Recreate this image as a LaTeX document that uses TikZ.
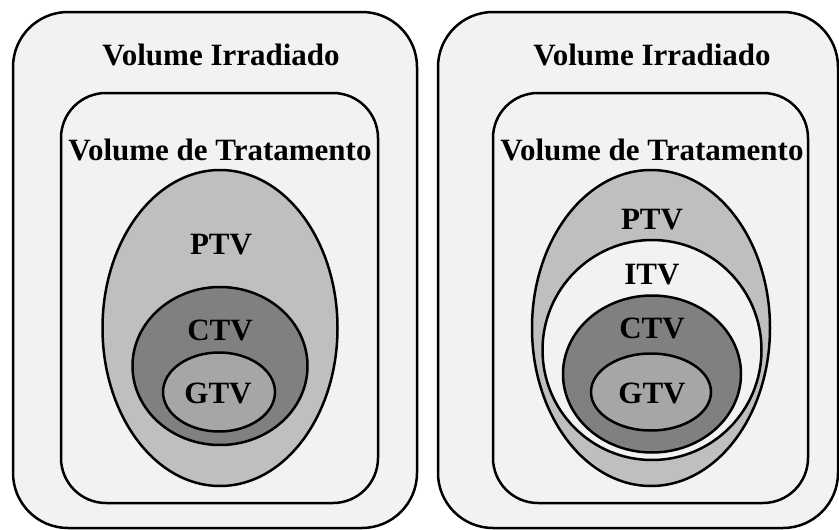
\documentclass[tikz,border=0pt]{standalone}
\usepackage{fontspec}
\setmainfont{Liberation Serif}
\usetikzlibrary{shapes.geometric, positioning}

\definecolor{bgbox}{HTML}{F2F2F2}
\definecolor{ptvgray}{HTML}{BFBFBF}
\definecolor{ctvgray}{HTML}{808080}
\definecolor{gtvgray}{HTML}{A6A6A6}

\begin{document}
\begin{tikzpicture}[x=1pt, y=-1pt,
  outerbox/.style={rectangle, rounded corners=55pt, draw=black, line width=2.5pt, fill=bgbox, inner sep=0pt},
  innerbox/.style={rectangle, rounded corners=45pt, draw=black, line width=2.5pt, fill=bgbox, inner sep=0pt},
  volume/.style={ellipse, draw=black, line width=2.5pt, inner sep=0pt},
  label/.style={font=\fontsize{31}{37}\selectfont\bfseries, inner sep=0pt}]

  \useasboundingbox (0,0) rectangle (839,530);

  % Left diagram
  \node (irrleft) [outerbox, minimum width=404pt, minimum height=516pt] at (215,270) {};
  \node (tratleft) [innerbox, minimum width=317pt, minimum height=410pt] at (219.5,298) {};
  \node (ptvleft) [volume, fill=ptvgray, minimum width=235pt, minimum height=316pt] at (220,328) {};
  \node (ctvleft) [volume, fill=ctvgray, minimum width=175pt, minimum height=158pt] at (220,366) {};
  \node (gtvleft) [volume, fill=gtvgray, minimum width=112pt, minimum height=79pt] at (219,392) {};

  \node (irrtextleft) [label] at (221,55) {Volume Irradiado};
  \node (trattextleft) [label] at (220,150) {Volume de Tratamento};
  \node (ptvtextleft) [label] at (221,245) {PTV};
  \node (ctvtextleft) [label] at (220,330) {CTV};
  \node (gtvtextleft) [label] at (218,393) {GTV};

  % Right diagram
  \node (irrright) [outerbox, minimum width=400pt, minimum height=516pt] at (638,270) {};
  \node (tratright) [innerbox, minimum width=315pt, minimum height=410pt] at (650.5,298) {};
  \node (ptvright) [volume, fill=ptvgray, minimum width=238pt, minimum height=316pt] at (651,328) {};
  \node (itvright) [volume, fill=bgbox, minimum width=219pt, minimum height=220pt] at (652,350) {};
  \node (ctvright) [volume, fill=ctvgray, minimum width=178pt, minimum height=157pt] at (652,374) {};
  \node (gtvright) [volume, fill=gtvgray, minimum width=120pt, minimum height=77pt] at (651,392) {};

  \node (irrtextright) [label] at (652,55) {Volume Irradiado};
  \node (trattextright) [label] at (652,150) {Volume de Tratamento};
  \node (ptvtextright) [label] at (652,220) {PTV};
  \node (itvtextright) [label] at (652,275) {ITV};
  \node (ctvtextright) [label] at (652,328) {CTV};
  \node (gtvtextright) [label] at (652,393) {GTV};

\end{tikzpicture}
\end{document}
